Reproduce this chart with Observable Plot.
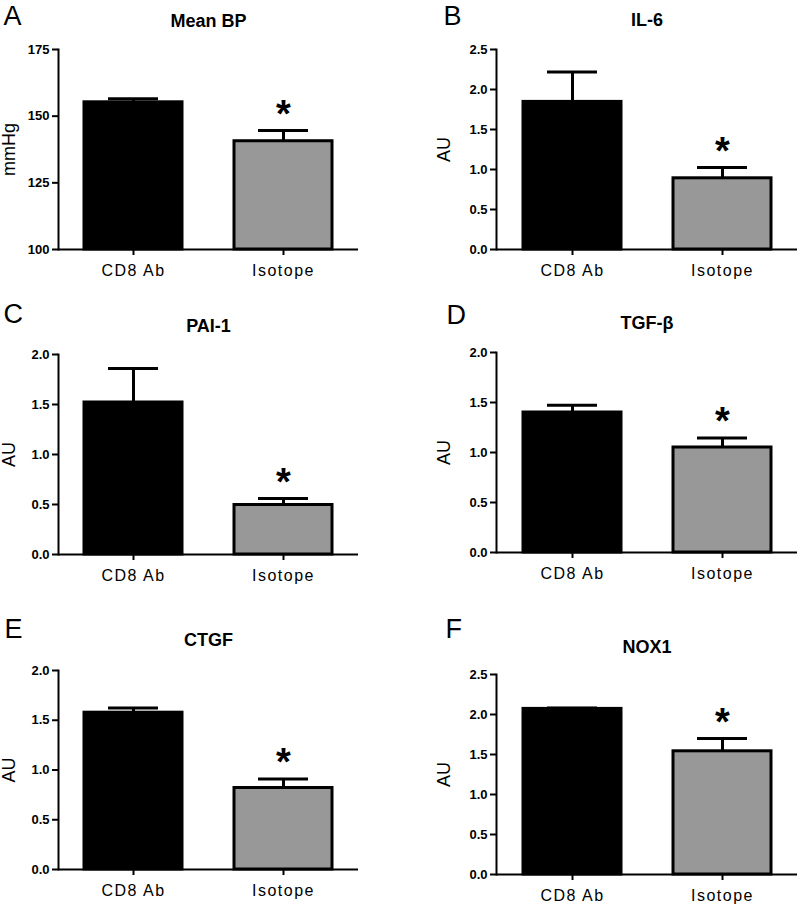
<!DOCTYPE html>
<html><head><meta charset="utf-8">
<script src="https://cdn.jsdelivr.net/npm/d3@7"></script>
<script src="https://cdn.jsdelivr.net/npm/@observablehq/plot@0.6"></script>
<style>
body{margin:0;background:#fff}
#wrap{position:relative;width:798px;height:904px;overflow:hidden;background:#fff}
.panel{position:absolute}
g[aria-label="x-axis tick label"] text{letter-spacing:1.5px}
</style></head><body><div id="wrap"></div>
<script>
// ---- data ----
const groups = ["CD8 Ab", "Isotope"];
const letters = ["A", "B", "C", "D", "E", "F"];
const titles = ["Mean BP", "IL-6", "PAI-1", "TGF-β", "CTGF", "NOX1"];
const yLabels = ["mmHg", "AU", "AU", "AU", "AU", "AU"];
const yDomains = [[100, 175], [0, 2.5], [0, 2], [0, 2], [0, 2], [0, 2.5]];
const yTicks = [
  [100, 125, 150, 175],
  [0, 0.5, 1, 1.5, 2, 2.5],
  [0, 0.5, 1, 1.5, 2],
  [0, 0.5, 1, 1.5, 2],
  [0, 0.5, 1, 1.5, 2],
  [0, 0.5, 1, 1.5, 2, 2.5]
];
const means = [[155.2, 140.6], [1.845, 0.89], [1.52, 0.495], [1.40, 1.05], [1.576, 0.819], [2.07, 1.54]];
const sems  = [[1.3, 4.0], [0.375, 0.135], [0.34, 0.065], [0.073, 0.096], [0.046, 0.09], [0.01, 0.16]];
const significant = [[false, true], [false, true], [false, true], [false, true], [false, true], [false, true]];

// ---- layout (page pixels) ----
const layout = [
  {left: 0,   top: 0,   w: 400, h: 290, ml: 58, mr: 42, mt: 49, mb: 41, titleBase: 26, letterX: 3,  letterBase: 24, labelX: 2},
  {left: 400, top: 0,   w: 398, h: 290, ml: 96, mr: 1,  mt: 49, mb: 41, titleBase: 25, letterX: 43, letterBase: 24, labelX: 37},
  {left: 0,   top: 290, w: 400, h: 300, ml: 58, mr: 42, mt: 64, mb: 36, titleBase: 41, letterX: 3,  letterBase: 32, labelX: 2},
  {left: 400, top: 290, w: 398, h: 300, ml: 96, mr: 1,  mt: 62, mb: 38, titleBase: 38, letterX: 46, letterBase: 33, labelX: 37},
  {left: 0,   top: 590, w: 400, h: 314, ml: 58, mr: 42, mt: 80, mb: 35, titleBase: 55, letterX: 4,  letterBase: 47, labelX: 2},
  {left: 400, top: 590, w: 398, h: 314, ml: 96, mr: 1,  mt: 84, mb: 30, titleBase: 62, letterX: 45, letterBase: 47, labelX: 37}
];

const font = "'Liberation Sans', Arial, Helvetica, sans-serif";
const wrap = document.getElementById("wrap");

letters.forEach((letter, k) => {
  const L = layout[k];
  const rows = groups.map((g, j) => ({
    group: g, mean: means[k][j], cap: means[k][j] + sems[k][j], sig: significant[k][j]
  }));
  const y0 = yDomains[k][0];
  const fmt = k === 0 ? d3.format("d") : d3.format(".1f");
  const chart = Plot.plot({
    width: L.w, height: L.h,
    marginLeft: L.ml, marginRight: L.mr, marginTop: L.mt, marginBottom: L.mb,
    style: {fontFamily: font, background: "white", color: "black", overflow: "visible"},
    x: {domain: groups, paddingInner: 0.35, paddingOuter: 0.175, label: null},
    y: {domain: yDomains[k], label: null},
    color: {domain: groups, range: ["#000000", "#989898"]},
    marks: [
      Plot.ruleX(rows, {x: "group", y1: "mean", y2: "cap", stroke: "black", strokeWidth: 3}),
      Plot.tickY(rows, {x: "group", y: "cap", stroke: "black", strokeWidth: 3, insetLeft: 24, insetRight: 24}),
      Plot.barY(rows, {x: "group", y1: y0, y2: "mean", fill: "group", stroke: "black", strokeWidth: 3}),
      Plot.axisY({ticks: yTicks[k], tickFormat: fmt, tickSize: 6, tickPadding: 3, fontSize: 13, fontWeight: "bold", strokeWidth: 2, label: null}),
      Plot.axisX({tickSize: 6, tickPadding: 9, fontSize: 16, strokeWidth: 2, label: null}),
      Plot.ruleY([y0], {stroke: "black", strokeWidth: 2}),
      Plot.frame({anchor: "left", stroke: "black", strokeWidth: 2}),
      Plot.text(rows.filter(d => d.sig), {x: "group", y: "cap", text: () => "*", fontSize: 38, fontWeight: "bold", lineAnchor: "bottom", dy: -4}),
      Plot.text([titles[k]], {frameAnchor: "top", dy: L.titleBase - L.mt, lineAnchor: "bottom", fontSize: 18, fontWeight: "bold"}),
      Plot.text([letter], {frameAnchor: "top-left", dx: L.letterX - L.ml, dy: L.letterBase - L.mt, textAnchor: "start", lineAnchor: "bottom", fontSize: 27}),
      Plot.text([yLabels[k]], {frameAnchor: "left", rotate: -90, dx: L.labelX - L.ml, lineAnchor: "top", fontSize: 18, textAnchor: "middle"})
    ]
  });
  const div = document.createElement("div");
  div.className = "panel";
  div.style.left = L.left + "px";
  div.style.top = L.top + "px";
  div.appendChild(chart);
  wrap.appendChild(div);
});
</script></body></html>
